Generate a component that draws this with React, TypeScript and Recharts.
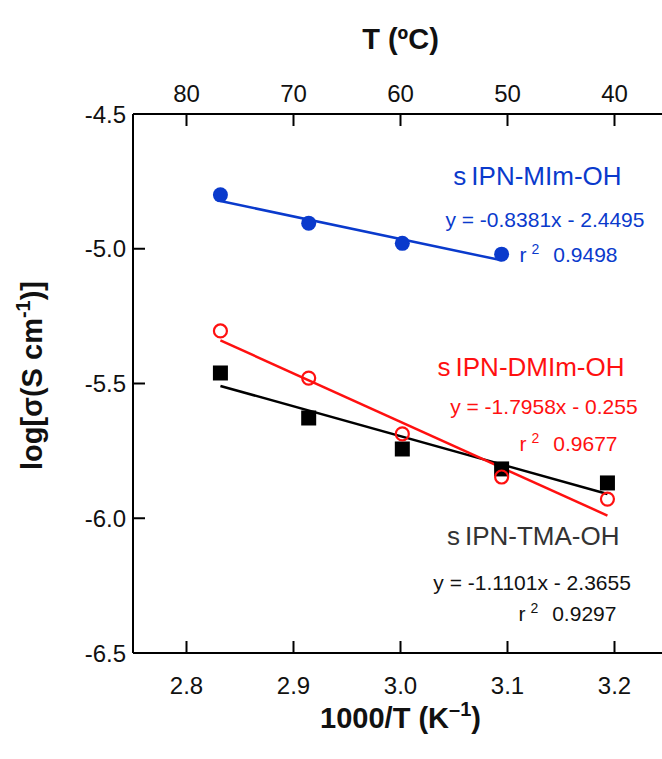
import { ComposedChart, Scatter, XAxis, YAxis, ReferenceDot, Label } from 'recharts';

const FONT = '"Liberation Sans", Arial, Helvetica, sans-serif';
const BLUE = '#0a3acc';
const RED = '#ff1010';
const DARK = '#000000';

// 1000/T for 80, 70, 60, 50, 40 °C
const invT = [2.8317, 2.9142, 3.0017, 3.0945, 3.1934];
const tempLabels = ['80', '70', '60', '50', '40'];
const xTicks = [2.8, 2.9, 3.0, 3.1, 3.2];
const yTicks = [-4.5, -5.0, -5.5, -6.0, -6.5];

// measured log(sigma)
const mimY = [-4.8, -4.905, -4.98, -5.02];
const dmimY = [-5.305, -5.48, -5.687, -5.847, -5.929];
const tmaY = [-5.461, -5.628, -5.743, -5.817, -5.869];

// fitted line ends as drawn (first and last temperature)
const mimFit = [-4.823, -5.043];
const dmimFit = [-5.34, -5.99];
const tmaFit = [-5.509, -5.91];

// annotation text and where it sits (data coords)
const mimNotes = [
  { x: 3.128, y: -4.73, kind: 'name', text: 'IPN-MIm-OH' },
  { x: 3.135, y: -4.893, kind: 'eq', text: 'y  = -0.8381x - 2.4495' },
  { x: 3.157, y: -5.023, kind: 'r2', text: '0.9498' },
];
const dmimNotes = [
  { x: 3.122, y: -5.439, kind: 'name', text: 'IPN-DMIm-OH' },
  { x: 3.134, y: -5.587, kind: 'eq', text: 'y  = -1.7958x - 0.255' },
  { x: 3.157, y: -5.724, kind: 'r2', text: '0.9677' },
];
const tmaNotes = [
  { x: 3.124, y: -6.066, kind: 'name', text: 'IPN-TMA-OH' },
  { x: 3.123, y: -6.237, kind: 'eq', text: 'y  = -1.1101x - 2.3655' },
  { x: 3.156, y: -6.352, kind: 'r2', text: '0.9297' },
];

const pts = (xs: number[], ys: number[]) => ys.map((y, i) => ({ x: xs[i], y }));
const fitPts = (ys: number[], lastIdx: number) => [
  { x: invT[0], y: ys[0] },
  { x: invT[lastIdx], y: ys[1] },
];

function BottomTick(props: any) {
  const { x, y, payload } = props;
  return (
    <g>
      <line x1={x} y1={y} x2={x} y2={y - 12} stroke="#000" strokeWidth={2} />
      <text x={x} y={y + 41} textAnchor="middle" fontSize={24} fontFamily={FONT} fill="#111">
        {payload.value.toFixed(1)}
      </text>
    </g>
  );
}

function TopTick(props: any) {
  const { x, y, payload } = props;
  const idx = xTicks.findIndex((t) => Math.abs(t - payload.value) < 1e-6);
  return (
    <g>
      <line x1={x} y1={y} x2={x} y2={y + 12} stroke="#000" strokeWidth={2} />
      <text x={x} y={y - 12} textAnchor="middle" fontSize={24} fontFamily={FONT} fill="#111">
        {tempLabels[idx]}
      </text>
    </g>
  );
}

function LeftTick(props: any) {
  const { x, y, payload } = props;
  return (
    <g>
      <line x1={x} y1={y} x2={x + 12} y2={y} stroke="#000" strokeWidth={2} />
      <text x={x - 7} y={y + 8.5} textAnchor="end" fontSize={24} fontFamily={FONT} fill="#111">
        {payload.value.toFixed(1)}
      </text>
    </g>
  );
}

function noteLabel(kind: string, text: string, color: string) {
  return (p: any) => {
    const vb = p.viewBox;
    const cx = vb.x + vb.width / 2;
    const cy = vb.y + vb.height / 2;
    if (kind === 'name') {
      return (
        <text x={cx} y={cy + 9} textAnchor="middle" fontSize={26} fontFamily={FONT} fill={color}>
          <tspan>s</tspan>
          <tspan dx={5}>{text}</tspan>
        </text>
      );
    }
    if (kind === 'eq') {
      return (
        <text x={cx} y={cy + 7.5} textAnchor="middle" fontSize={21} fontFamily={FONT} fill={color}>
          {text}
        </text>
      );
    }
    return (
      <text x={cx} y={cy + 7.5} textAnchor="middle" fontSize={21} fontFamily={FONT} fill={color}>
        <tspan>r</tspan>
        <tspan dx={5} dy={-8} fontSize={14}>2</tspan>
        <tspan dx={14} dy={8}>{text}</tspan>
      </text>
    );
  };
}

const FilledCircle = (color: string) => (p: any) => <circle cx={p.cx} cy={p.cy} r={7.5} fill={color} />;
const OpenCircle = (color: string) => (p: any) => (
  <circle cx={p.cx} cy={p.cy} r={6.5} fill="none" stroke={color} strokeWidth={2.2} />
);
const Square = (color: string) => (p: any) => (
  <rect x={p.cx - 7.5} y={p.cy - 7.5} width={15} height={15} fill={color} />
);
const NoShape = () => <g />;

export default function App() {
  const axisLine = { stroke: '#000', strokeWidth: 2 };
  return (
    <div style={{ position: 'absolute', left: 0, top: 0, width: 662, height: 759, overflow: 'hidden', background: '#fff' }}>
      <ComposedChart width={700} height={759} margin={{ top: 0, right: 32, bottom: 0, left: 0 }}>
        <XAxis
          dataKey="x"
          type="number"
          domain={[2.75, 3.25]}
          ticks={xTicks}
          allowDataOverflow
          height={106}
          axisLine={axisLine}
          tickLine={false}
          tickSize={0}
          tickMargin={0}
          tick={<BottomTick />}
          interval={0}
        >
          <Label
            content={(p: any) => {
              const vb = p.viewBox;
              return (
                <text x={vb.x + vb.width / 2} y={vb.y + 75} textAnchor="middle" fontSize={29} fontWeight="bold" fontFamily={FONT} fill="#111">
                  <tspan>1000/T (K</tspan>
                  <tspan dy={-12} fontSize={20}>–1</tspan>
                  <tspan dy={12}>)</tspan>
                </text>
              );
            }}
          />
        </XAxis>
        <XAxis
          xAxisId="top"
          orientation="top"
          dataKey="x"
          type="number"
          domain={[2.75, 3.25]}
          ticks={xTicks}
          allowDataOverflow
          height={114}
          axisLine={axisLine}
          tickLine={false}
          tickSize={0}
          tickMargin={0}
          tick={<TopTick />}
          interval={0}
        >
          <Label
            content={(p: any) => {
              const vb = p.viewBox;
              return (
                <text x={vb.x + vb.width / 2} y={49} textAnchor="middle" fontSize={29} fontWeight="bold" fontFamily={FONT} fill="#111">
                  T (ºC)
                </text>
              );
            }}
          />
        </XAxis>
        <YAxis
          dataKey="y"
          type="number"
          domain={[-6.5, -4.5]}
          ticks={yTicks}
          allowDataOverflow
          width={133}
          axisLine={axisLine}
          tickLine={false}
          tickSize={0}
          tickMargin={0}
          tick={<LeftTick />}
          interval={0}
        >
          <Label
            content={(p: any) => {
              const vb = p.viewBox;
              const cx = 42;
              const cy = vb.y + vb.height / 2 - 8;
              return (
                <text
                  x={cx}
                  y={cy}
                  transform={`rotate(-90 ${cx} ${cy})`}
                  textAnchor="middle"
                  fontSize={29}
                  fontWeight="bold"
                  fontFamily={FONT}
                  fill="#111"
                >
                  <tspan>log[σ(S cm</tspan>
                  <tspan dy={-12} fontSize={20}>-1</tspan>
                  <tspan dy={12}>)]</tspan>
                </text>
              );
            }}
          />
        </YAxis>

        <Scatter data={fitPts(mimFit, 3)} dataKey="y" line={{ stroke: BLUE, strokeWidth: 2.5 }} shape={NoShape} isAnimationActive={false} />
        <Scatter data={fitPts(tmaFit, 4)} dataKey="y" line={{ stroke: DARK, strokeWidth: 2.5 }} shape={NoShape} isAnimationActive={false} />
        <Scatter data={fitPts(dmimFit, 4)} dataKey="y" line={{ stroke: RED, strokeWidth: 2.5 }} shape={NoShape} isAnimationActive={false} />

        <Scatter data={pts(invT, mimY)} dataKey="y" shape={FilledCircle(BLUE)} isAnimationActive={false} />
        <Scatter data={pts(invT, tmaY)} dataKey="y" shape={Square(DARK)} isAnimationActive={false} />
        <Scatter data={pts(invT, dmimY)} dataKey="y" shape={OpenCircle(RED)} isAnimationActive={false} />

        {mimNotes.map((n) => (
          <ReferenceDot key={'m' + n.kind} x={n.x} y={n.y} r={1} fill="none" stroke="none" label={noteLabel(n.kind, n.text, BLUE)} />
        ))}
        {dmimNotes.map((n) => (
          <ReferenceDot key={'d' + n.kind} x={n.x} y={n.y} r={1} fill="none" stroke="none" label={noteLabel(n.kind, n.text, RED)} />
        ))}
        {tmaNotes.map((n) => (
          <ReferenceDot
            key={'t' + n.kind}
            x={n.x}
            y={n.y}
            r={1}
            fill="none"
            stroke="none"
            label={noteLabel(n.kind, n.text, n.kind === 'name' ? '#333' : '#111')}
          />
        ))}
      </ComposedChart>
    </div>
  );
}
